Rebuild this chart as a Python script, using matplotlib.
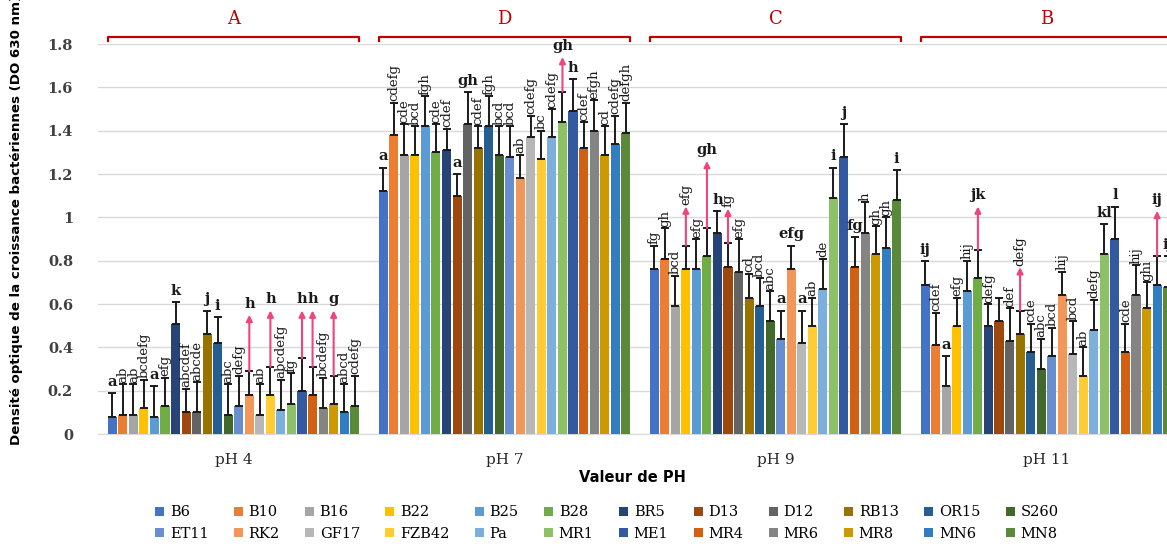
import numpy as np
import matplotlib.pyplot as plt

groupes = ['pH 4', 'pH 7', 'pH 9', 'pH 11']
groupes_lettres = ['A', 'D', 'C', 'B']
souches = ['B6', 'B10', 'B16', 'B22', 'B25', 'B28', 'BR5', 'D13', 'D12', 'RB13', 'OR15', 'S260',
           'ET11', 'RK2', 'GF17', 'FZB42', 'Pa', 'MR1', 'ME1', 'MR4', 'MR6', 'MR8', 'MN6', 'MN8']
couleurs = ['#4472C4', '#ED7D31', '#A5A5A5', '#FFC000', '#5B9BD5', '#70AD47',
            '#264478', '#9E480E', '#636363', '#997300', '#255E91', '#43682B',
            '#698ED0', '#F1975A', '#B7B7B7', '#FFCD33', '#7CAFDD', '#8CC168',
            '#335AA1', '#D26012', '#848484', '#CC9A00', '#327DC2', '#5A8A39']

# densite optique moyenne
ph4 = [0.08, 0.09, 0.09, 0.12, 0.08, 0.13, 0.51, 0.10, 0.10, 0.46, 0.42, 0.09,
       0.13, 0.18, 0.09, 0.18, 0.11, 0.14, 0.20, 0.18, 0.12, 0.14, 0.10, 0.13]
ph7 = [1.12, 1.38, 1.29, 1.29, 1.42, 1.30, 1.31, 1.10, 1.43, 1.32, 1.42, 1.29,
       1.28, 1.18, 1.37, 1.27, 1.37, 1.44, 1.49, 1.32, 1.40, 1.29, 1.34, 1.39]
ph9 = [0.76, 0.81, 0.59, 0.76, 0.76, 0.82, 0.93, 0.77, 0.75, 0.63, 0.59, 0.52,
       0.44, 0.76, 0.42, 0.50, 0.67, 1.09, 1.28, 0.77, 0.93, 0.83, 0.86, 1.08]
ph11 = [0.69, 0.41, 0.22, 0.50, 0.66, 0.72, 0.50, 0.52, 0.43, 0.46, 0.38, 0.30,
        0.36, 0.64, 0.37, 0.27, 0.48, 0.83, 0.90, 0.38, 0.64, 0.58, 0.69, 0.68]

# ecart type
ph4_err = [0.11, 0.14, 0.14, 0.13, 0.14, 0.13, 0.10, 0.11, 0.14, 0.11, 0.12, 0.14,
           0.14, 0.11, 0.14, 0.13, 0.14, 0.14, 0.15, 0.13, 0.14, 0.13, 0.13, 0.14]
ph7_err = [0.11, 0.15, 0.14, 0.13, 0.14, 0.13, 0.10, 0.10, 0.15, 0.10, 0.14, 0.13,
           0.14, 0.11, 0.10, 0.13, 0.13, 0.14, 0.15, 0.12, 0.14, 0.13, 0.13, 0.14]
ph9_err = [0.11, 0.14, 0.14, 0.11, 0.14, 0.13, 0.10, 0.11, 0.15, 0.11, 0.13, 0.14,
           0.13, 0.11, 0.15, 0.13, 0.14, 0.14, 0.15, 0.14, 0.14, 0.13, 0.14, 0.14]
ph11_err = [0.11, 0.15, 0.14, 0.13, 0.14, 0.13, 0.10, 0.11, 0.15, 0.11, 0.13, 0.14,
            0.13, 0.11, 0.15, 0.13, 0.14, 0.14, 0.15, 0.13, 0.14, 0.12, 0.13, 0.14]

# groupes statistiques
ph4_lettres = ['a', 'ab', 'ab', 'bcdefg', 'a', 'efg', 'k', 'abcdef', 'abcde', 'j', 'i', 'abc',
               'defg', 'h', 'ab', 'h', 'abcdefg', 'fg', 'h', 'h', 'bcdefg', 'g', 'abcd', 'cdefg']
ph7_lettres = ['a', 'cdefg', 'cde', 'bcd', 'fgh', 'cde', 'cdef', 'a', 'gh', 'cdef', 'fgh', 'bcd',
               'bcd', 'ab', 'cdefg', 'bc', 'cdefg', 'gh', 'h', 'cdef', 'efgh', 'cd', 'cdefg', 'defgh']
ph9_lettres = ['fg', 'gh', 'bcd', 'efg', 'efg', 'gh', 'h', 'fg', 'efg', 'cd', 'bcd', 'abc',
               'a', 'efg', 'a', 'ab', 'de', 'i', 'j', 'fg', 'h', 'gh', 'gh', 'i']
ph11_lettres = ['ij', 'cdef', 'a', 'efg', 'hij', 'jk', 'defg', '', 'def', 'defg', 'cde', 'abc',
                'bcd', 'hij', 'bcd', 'ab', 'defg', 'kl', 'l', 'cde', 'hij', 'ghi', 'ij', 'ij']

# fleches roses : indice de la souche -> hauteur de la pointe
ph4_fleches = {13: 0.55, 15: 0.57, 18: 0.57, 19: 0.57, 21: 0.57}
ph7_fleches = {17: 1.74}
ph9_fleches = {3: 1.05, 5: 1.26, 7: 1.04}
ph11_fleches = {5: 1.05, 9: 0.77, 22: 1.03}

valeurs = np.array([ph4, ph7, ph9, ph11])
erreurs = np.array([ph4_err, ph7_err, ph9_err, ph11_err])
lettres = [ph4_lettres, ph7_lettres, ph9_lettres, ph11_lettres]
fleches = [ph4_fleches, ph7_fleches, ph9_fleches, ph11_fleches]

# etiquettes ecrites a plat (les autres sont verticales)
a_plat = [{0, 4, 6, 9, 10, 13, 15, 18, 19, 21},
          {0, 7, 8, 17, 18},
          {5, 6, 12, 13, 14, 17, 18, 19, 23},
          {0, 2, 5, 17, 18, 22, 23}]

serif = 'DejaVu Serif'
rouge = '#C00000'
rose = '#F0457B'

fig = plt.figure(figsize=(11.67, 5.46), dpi=100)
ax = fig.add_axes([0.084, 0.2051, 0.916, 0.7143])

pas = 0.0389
x0 = np.arange(len(groupes))
handles = []
for j, souche in enumerate(souches):
    x = x0 + (j - 11.5) * pas
    b = ax.bar(x, valeurs[:, j], width=pas * 0.86, color=couleurs[j], label=souche, zorder=3,
               yerr=[np.zeros(4), erreurs[:, j]],
               error_kw=dict(ecolor='#1a1a1a', elinewidth=1.4, capsize=3, capthick=1.4, zorder=4))
    handles.append(b)

for g in range(len(groupes)):
    for j in range(len(souches)):
        x = g + (j - 11.5) * pas
        haut = valeurs[g, j] + erreurs[g, j]
        if j in fleches[g]:
            ax.annotate('', xy=(x, fleches[g][j]), xytext=(x, haut),
                        arrowprops=dict(arrowstyle='-|>', color=rose, lw=1.5,
                                        mutation_scale=9, shrinkA=0, shrinkB=0),
                        zorder=5, annotation_clip=False)
            haut = fleches[g][j]
        txt = lettres[g][j]
        if not txt:
            continue
        if j in a_plat[g]:
            ax.annotate(txt, (x, haut), xytext=(0, 3), textcoords='offset points',
                        ha='center', va='bottom', fontsize=10.5, family=serif,
                        fontweight='bold', color='#1a1a1a', annotation_clip=False)
        else:
            ax.annotate(txt, (x, haut), xytext=(0, 1), textcoords='offset points',
                        ha='center', va='bottom', rotation=90, fontsize=9.5, family=serif,
                        color='#1a1a1a', annotation_clip=False)

# accolades rouges au-dessus des groupes
for g, lettre in enumerate(groupes_lettres):
    xa, xb = g - 0.463, g + 0.463
    ax.plot([xa, xa, xb, xb], [1.815, 1.833, 1.833, 1.815], color=rouge, lw=1.6,
            clip_on=False, zorder=5)
    ax.text(g, 1.915, lettre, ha='center', va='center', color=rouge, fontsize=13,
            family=serif)

ax.set_xlim(-0.5, 3.445)
ax.set_ylim(0, 1.8)
ax.set_yticks(np.arange(0, 1.81, 0.2))
ax.set_yticklabels(['0', '0.2', '0.4', '0.6', '0.8', '1', '1.2', '1.4', '1.6', '1.8'],
                   family=serif, fontweight='bold', fontsize=10.5, color='#404040')
ax.set_xticks(x0)
ax.set_xticklabels(groupes, family=serif, fontsize=11, color='#262626')
ax.tick_params(axis='both', length=0)
ax.tick_params(axis='y', pad=18)
ax.tick_params(axis='x', pad=14)
ax.grid(axis='y', color='#D9D9D9', lw=1, zorder=0)
for s in ['top', 'right', 'left']:
    ax.spines[s].set_visible(False)
ax.spines['bottom'].set_color('#D9D9D9')

ax.set_xlabel('Valeur de PH', fontsize=10.5, fontweight='bold', labelpad=2)
fig.text(0.014, 0.185, 'Densité optique de la croissance bactériennes (DO 630 nm)',
         rotation=90, ha='center', va='bottom', fontsize=9.6, fontweight='bold')

ordre = []
for k in range(12):
    ordre += [handles[k], handles[k + 12]]
leg = fig.legend(ordre, [h.get_label() for h in ordre], ncol=12, loc='center',
                 bbox_to_anchor=(0.52, 0.042), frameon=False, handlelength=0.6,
                 handleheight=0.6, handletextpad=0.4, columnspacing=1.75,
                 labelspacing=0.5, prop={'family': serif, 'size': 10.5})

fig.savefig('out.png', dpi=100)
